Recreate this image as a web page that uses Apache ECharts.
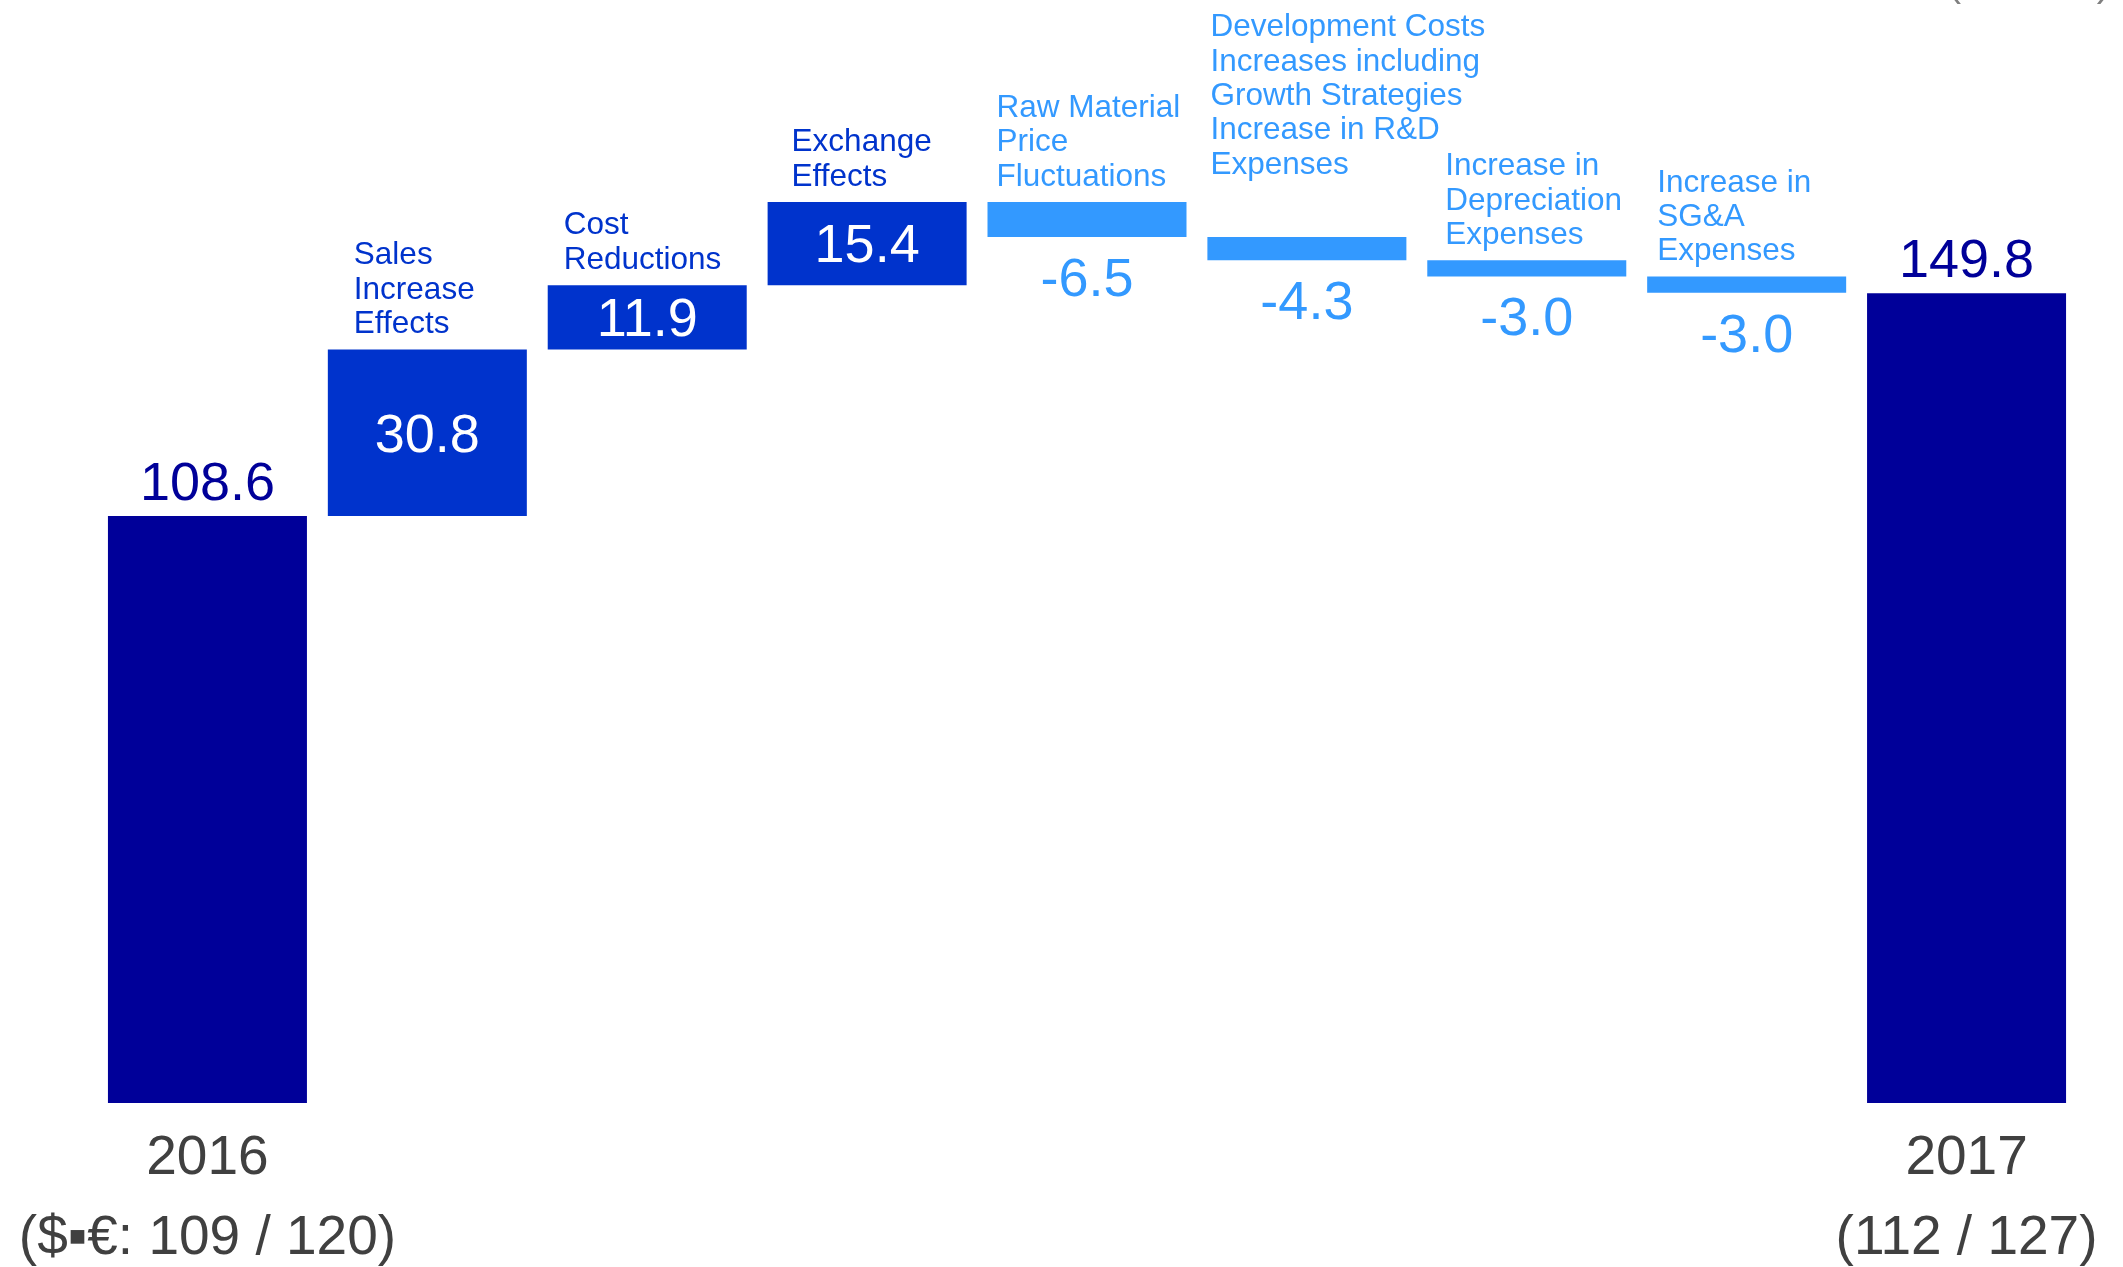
<!DOCTYPE html>
<html>
<head>
<meta charset="utf-8">
<script src="https://cdn.jsdelivr.net/npm/echarts@6/dist/echarts.min.js"></script>
<style>
html,body{margin:0;padding:0;background:#fff;}
#chart{width:2123px;height:1267px;}
</style>
</head>
<body>
<div id="chart"></div>
<script>
// ---- data ----
const categories = [
  '2016',
  'Sales\nIncrease\nEffects',
  'Cost\nReductions',
  'Exchange\nEffects',
  'Raw Material\nPrice\nFluctuations',
  'Development Costs\nIncreases including\nGrowth Strategies\nIncrease in R&D\nExpenses',
  'Increase in\nDepreciation\nExpenses',
  'Increase in\nSG&A\nExpenses',
  '2017'
];
const values = [108.6, 30.8, 11.9, 15.4, -6.5, -4.3, -3.0, -3.0, 149.8];
const isTotal = [true, false, false, false, false, false, false, false, true];
const tickLabels = ['2016\n($▪€: 109 / 120)', '', '', '', '', '', '', '', '2017\n(112 / 127)'];
const unitLabel = '(¥ billion)';

// ---- layout / style ----
const FONT = "'Liberation Sans', Arial, sans-serif";
const C_TOTAL = '#000099', C_UP = '#0033CC', C_DOWN = '#3399FF';
const BAR_RATIO = 0.905;
const nameLift = [0, 0, 0, 0, 0, 47, 0, 0, 0];
const nameDx = [0, 26, 16, 24, 9, 3, 18, 10, 0];

// ---- derived series ----
const base = [], totals = [], ups = [], downs = [], nameData = [];
let cum = 0;
values.forEach((v, i) => {
  if (isTotal[i]) {
    base.push(0); totals.push(v); ups.push('-'); downs.push('-');
    cum = v;
  } else if (v >= 0) {
    base.push(+cum.toFixed(2)); ups.push(v); totals.push('-'); downs.push('-');
    cum += v;
    nameData.push([i, +cum.toFixed(2)]);
  } else {
    const top = cum;
    cum += v;
    base.push(+cum.toFixed(2)); downs.push(-v); ups.push('-'); totals.push('-');
    nameData.push([i, +top.toFixed(2)]);
  }
});

const chart = echarts.init(document.getElementById('chart'));
chart.setOption({
  animation: false,
  backgroundColor: '#ffffff',
  grid: { left: 97.5, right: 46.5, top: 22, bottom: 164, containLabel: false, outerBoundsMode: 'none' },
  xAxis: {
    type: 'category',
    data: categories,
    axisLine: { show: false },
    axisTick: { show: false },
    axisLabel: {
      interval: 0,
      margin: 16,
      fontSize: 55,
      lineHeight: 80,
      color: '#404040',
      fontFamily: FONT,
      formatter: (v, i) => tickLabels[i]
    }
  },
  yAxis: { type: 'value', min: 0, max: 200, show: false, splitLine: { show: false } },
  series: [
    {
      type: 'bar', stack: 'w', data: base, barCategoryGap: '9.5%',
      itemStyle: { color: 'transparent' }, silent: true
    },
    {
      type: 'bar', stack: 'w', data: totals,
      itemStyle: { color: C_TOTAL },
      label: {
        show: true, position: 'top', distance: 4,
        fontSize: 54, fontFamily: FONT, color: C_TOTAL,
        formatter: p => Number(p.value).toFixed(1)
      }
    },
    {
      type: 'bar', stack: 'w', data: ups,
      itemStyle: { color: C_UP },
      label: {
        show: true, position: 'inside', offset: [0, 4],
        fontSize: 54, fontFamily: FONT, color: '#ffffff',
        formatter: p => Number(p.value).toFixed(1)
      }
    },
    {
      type: 'bar', stack: 'w', data: downs,
      itemStyle: { color: C_DOWN },
      label: {
        show: true, position: 'bottom', distance: 17,
        fontSize: 54, fontFamily: FONT, color: C_DOWN,
        formatter: p => '-' + Number(p.value).toFixed(1)
      }
    },
    {
      type: 'custom',
      data: nameData,
      encode: { x: 0, y: 1 },
      clip: false,
      silent: true,
      z: 10,
      renderItem: (params, api) => {
        const idx = api.value(0);
        const p = api.coord([idx, api.value(1)]);
        const band = api.size([1, 0])[0];
        const barW = band * BAR_RATIO;
        const color = values[idx] >= 0 ? C_UP : C_DOWN;
        return {
          type: 'text',
          x: p[0] - barW / 2 + nameDx[idx],
          y: p[1] - 8 - nameLift[idx],
          style: {
            text: categories[idx],
            fill: color,
            fontSize: 31.5,
            fontFamily: FONT,
            lineHeight: 34.3,
            align: 'left',
            verticalAlign: 'bottom'
          }
        };
      }
    }
  ],
  graphic: [
    {
      type: 'text', x: 2110, y: 5,
      style: {
        text: unitLabel, fill: '#808080', fontSize: 40, fontFamily: FONT,
        lineHeight: 40, align: 'right', verticalAlign: 'bottom'
      }
    }
  ]
});
</script>
</body>
</html>
